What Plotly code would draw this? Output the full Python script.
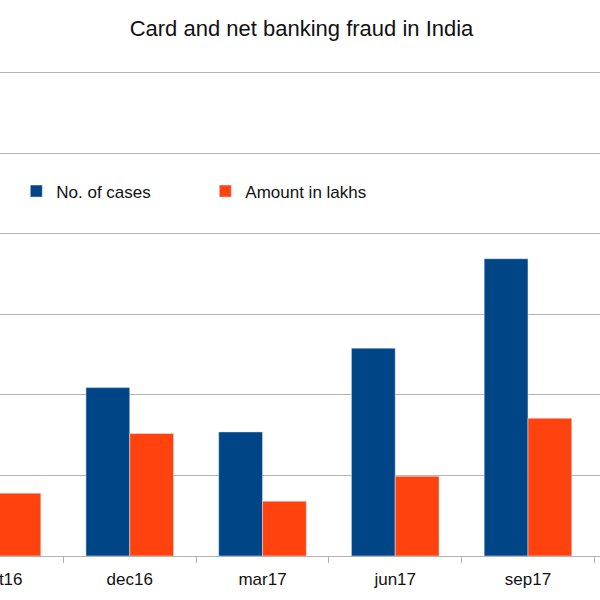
import plotly.graph_objects as go

categories = ["sept16", "dec16", "mar17", "jun17", "sep17"]
cases = [1.9, 2.09, 1.54, 2.58, 3.69]
amount = [0.78, 1.52, 0.68, 0.99, 1.71]

fig = go.Figure()
fig.add_trace(go.Bar(x=categories, y=cases, name="No. of cases", marker_color="#004586"))
fig.add_trace(go.Bar(x=categories, y=amount, name="Amount in lakhs", marker_color="#ff420e"))

fig.update_layout(
    width=603, height=600,
    margin=dict(l=0, r=0, t=71.4, b=44, autoexpand=False),
    paper_bgcolor="white", plot_bgcolor="white",
    font=dict(family="Liberation Sans, Arial, sans-serif", color="#111111", size=17),
    title=dict(text="Card and net banking fraud in India", x=0.505, xanchor="center",
               xref="paper", yref="container",
               y=1 - 21/600, yanchor="top", font=dict(size=22, color="#111111")),
    barmode="group", bargap=0.34, bargroupgap=0,
    legend=dict(orientation="h", x=0.032, y=(556-193)/483, xanchor="left", yanchor="middle",
                bgcolor="rgba(0,0,0,0)", font=dict(size=17), entrywidth=144,
                traceorder="normal"),
    showlegend=True,
)
fig.update_xaxes(type="category", range=[0, 4.5426], showgrid=False, automargin=False,
                 showline=True, linecolor="#b3b3b3", linewidth=1,
                 ticks="outside", tickson="boundaries", ticklen=6, tickcolor="#b3b3b3",
                 ticklabelstandoff=8,
                 tickfont=dict(size=17, color="#111111"))
fig.update_yaxes(range=[0, 6.02], dtick=1, showgrid=True, gridcolor="#b3b3b3", gridwidth=1,
                 showticklabels=False, zeroline=False, automargin=False)

fig.write_html("out.html", config={"displayModeBar": False},
               post_script="document.body.style.margin='0 0 0 -3px';")
